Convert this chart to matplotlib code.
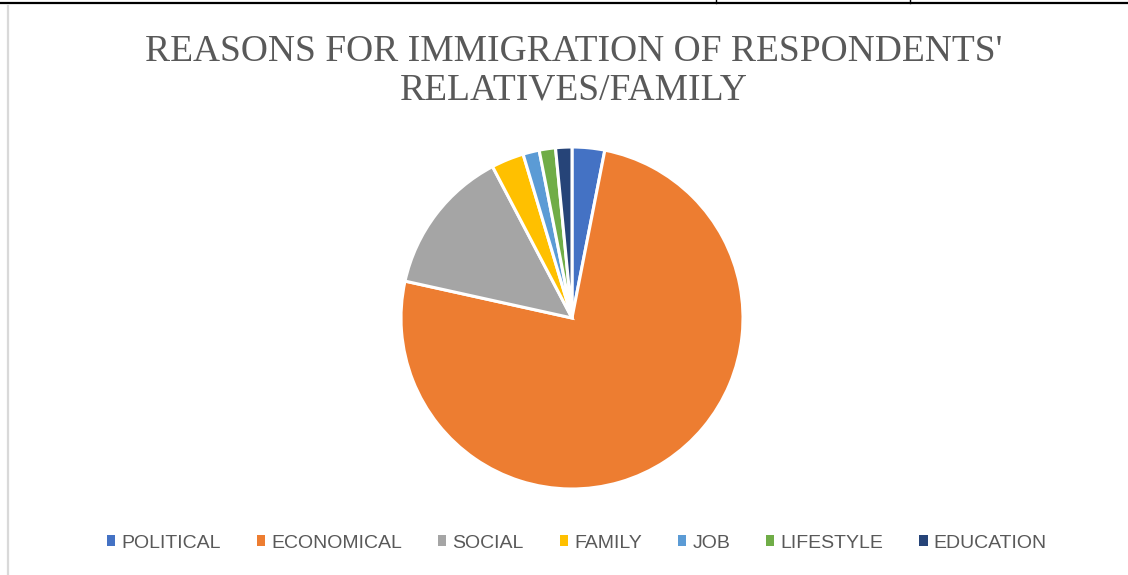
import matplotlib
matplotlib.use("Agg")
import matplotlib.pyplot as plt
from matplotlib.patches import Patch
from matplotlib.lines import Line2D

# Survey counts of reasons for immigration
categories = ["POLITICAL", "ECONOMICAL", "SOCIAL", "FAMILY", "JOB", "LIFESTYLE", "EDUCATION"]
counts = [2, 49, 9, 2, 1, 1, 1]
colors = ["#4472C4", "#ED7D31", "#A5A5A5", "#FFC000", "#5B9BD5", "#70AD47", "#264478"]
title = "REASONS FOR IMMIGRATION OF RESPONDENTS'\nRELATIVES/FAMILY"

W, H = 1128, 575
fig = plt.figure(figsize=(W / 100, H / 100), dpi=100)
fig.patch.set_facecolor("white")

# page borders around the chart
fig.add_artist(Line2D([0, 1], [1 - 3 / H, 1 - 3 / H], color="black", lw=1.6))
for xp in (716, 910):
    fig.add_artist(Line2D([xp / W, xp / W], [1 - 3 / H, 1], color="black", lw=1.0))
fig.add_artist(Line2D([7.5 / W, 7.5 / W], [0, 1 - 6 / H], color="#d9d9d9", lw=1.6))

# pie
cx, cy, r = 572, 318, 171
ax = fig.add_axes([(cx - r) / W, (H - cy - r) / H, 2 * r / W, 2 * r / H])
wedges, _ = ax.pie(counts, colors=colors, startangle=90, counterclock=False,
                   radius=1.0, wedgeprops=dict(edgecolor="white", linewidth=2.2))
ax.set_xlim(-1, 1)
ax.set_ylim(-1, 1)
ax.set_aspect("equal")
ax.axis("off")
for w in wedges:
    w.set_clip_on(False)

fig.text(574 / W, 1 - 71 / H, title, ha="center", va="center", color="#595959",
         fontsize=27, family="Liberation Serif", linespacing=1.12)

handles = [Patch(facecolor=c, edgecolor="none") for c in colors]
leg = fig.legend(handles, categories, loc="center", bbox_to_anchor=(577 / W, 1 - 543 / H),
                 ncol=7, frameon=False, handlelength=0.42, handleheight=0.45,
                 handletextpad=0.32, columnspacing=1.85,
                 prop=dict(family="Liberation Sans", size=14))
for t in leg.get_texts():
    t.set_color("#595959")

fig.savefig("out.png", dpi=100, facecolor="white")
